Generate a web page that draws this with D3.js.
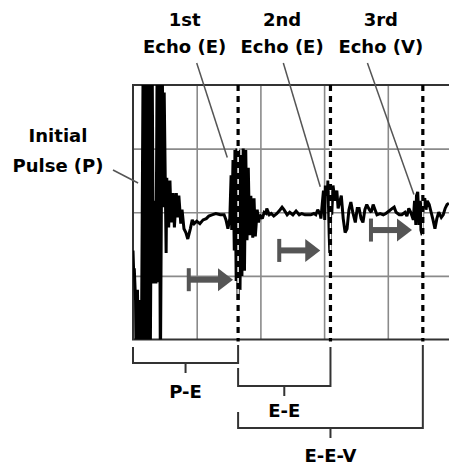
<!DOCTYPE html>
<html><head><meta charset="utf-8">
<script src="https://cdn.jsdelivr.net/npm/d3@7"></script>
<style>
html,body{margin:0;padding:0;background:#fff;}
svg{display:block;}
text{font-family:"DejaVu Sans",Verdana,sans-serif;font-weight:bold;fill:#000;}
</style></head>
<body>
<svg id="chart" width="449" height="468"></svg>
<script>
const traceTime = [0.0,0.1,0.2,0.4,0.5,0.7,0.9,1.1,1.3,1.6,1.8,2.0,2.3,2.5,2.7,3.0,3.2,3.5,3.6,3.8,3.9,4.1,4.3,4.6,4.7,4.9,5.2,5.3,5.6,5.8,6.0,6.3,6.5,6.8,7.0,7.2,7.5,7.7,8.0,8.3,8.6,9.0,9.3,9.6,10.0,10.5,11.0,11.5,11.9,12.4,13.0,13.7,14.3,14.6,14.9,15.2,15.4,15.5,15.7,15.9,16.0,16.2,16.3,16.5,16.6,16.8,17.0,17.1,17.3,17.5,17.7,17.9,18.1,18.3,18.5,18.8,19.0,19.2,19.5,19.7,19.9,20.3,20.6,20.9,21.0,21.4,21.7,22.1,22.6,23.1,23.4,23.7,24.2,24.6,25.1,25.6,26.1,26.5,27.0,27.5,27.9,28.4,28.7,29.0,29.4,29.5,29.7,29.9,30.1,30.2,30.5,30.6,30.8,30.9,31.1,31.2,31.4,31.7,32.0,32.2,32.5,32.7,33.0,33.3,33.6,33.9,34.2,34.5,34.9,35.2,35.5,35.8,36.1,36.4,36.7,37.1,37.4,37.7,38.0,38.3,38.8,39.3,39.7,40.2,40.7,41.0,41.3,41.8,42.2,42.7,43.0,43.3,43.6,44.0,44.2,44.4,44.5,44.7,44.9,45.1,45.2,45.4,45.5,45.8,46.0,46.2,46.5,46.8,47.1,47.4,47.7,48.0,48.4,48.7,49.0,49.3,49.6];
const traceAmp = [-30,-46,-44,-69,-130,-61,-130,-69,-130,130,-130,130,-130,130,-130,130,-56,9,-56,130,-55,130,-130,130,4,94,-32,27,-12,25,-8,15,-12,15,-4,13,-9,2,-13,-16,-21,-13,-6,-9,-7,-9,-6,-5,-3,-2,-1,-2,-2,-6,-13,-5,29,-14,41,-30,49,-54,50,-69,49,-61,45,-50,50,-46,49,-22,35,-18,13,-20,11,-19,2,-8,-2,-5,0,-1,3,-2,-1,-3,-1,2,4,2,-2,0,-2,1,-2,-1,-2,-2,-2,-1,-2,2,-2,-5,6,17,-6,21,13,25,-18,-32,17,-2,21,9,17,3,9,13,-5,-16,-13,2,8,0,-8,3,3,-5,-8,2,6,2,0,6,2,-2,-1,-2,-1,1,3,4,0,-2,-2,0,-3,3,0,-6,9,-10,13,16,-10,9,-14,-18,6,11,2,9,6,0,-6,-13,-5,0,-4,-2,3,6,7];

// Echo markers (dashed lines) and their labels
const echoLine1 = ["1st", "2nd", "3rd"];
const echoLine2 = ["Echo (E)", "Echo (E)", "Echo (V)"];
const echoTimes = [16.5, 31.0, 45.5];
const echoLabelTime = [8.1, 23.4, 38.9];
const pointerStartTime = [10.0, 23.6, 36.8];
const pointerEndTime = [14.8, 29.4, 44.1];
const pointerEndAmp = [43, 20, 14];

// Transit arrows (start time, end time, amplitude level)
const arrowStart = [8.6, 22.8, 37.2];
const arrowEnd = [15.7, 29.4, 43.8];
const arrowAmp = [-53, -30, -14];

// Measurement brackets
const bracketNames = ["P-E", "E-E", "E-E-V"];
const bracketFrom = [0, 16.5, 16.5];
const bracketTo = [16.5, 31.0, 45.5];

const gridTimes = [10, 20, 30, 40];
const gridAmps = [50, 0, -50];

const svg = d3.select("#chart");
const L = 133, R = 449, T = 85, B = 339.5;
const x = d3.scaleLinear().domain([0, 50]).range([L, 451.5]);
const y = d3.scaleLinear().domain([-100, 100]).range([B, T]);

svg.append("defs").append("clipPath").attr("id", "clip")
  .append("rect").attr("x", L).attr("y", T).attr("width", R - L).attr("height", B - T);

// grid
const grid = svg.append("g");
grid.append("g").attr("transform", `translate(0,${B})`)
  .call(d3.axisBottom(x).tickValues(gridTimes).tickSize(-(B - T)).tickFormat(""))
  .call(g => g.select(".domain").remove())
  .call(g => g.selectAll("text").remove())
  .call(g => g.selectAll("line").attr("stroke", "#8a8a8a").attr("stroke-width", 1.6));
grid.append("g").attr("transform", `translate(${L},0)`)
  .call(d3.axisLeft(y).tickValues(gridAmps).tickSize(-(R - L)).tickFormat(""))
  .call(g => g.select(".domain").remove())
  .call(g => g.selectAll("text").remove())
  .call(g => g.selectAll("line").attr("stroke", "#8a8a8a").attr("stroke-width", 1.6));

// frame (top, left, bottom)
svg.append("path")
  .attr("d", `M${R},${y(100)}H${x(0)}V${y(-100)}H${R}`)
  .attr("fill", "none").attr("stroke", "#333").attr("stroke-width", 2);

// trace
const pts = traceTime.map((t, i) => [t, traceAmp[i]]);
svg.append("path").datum(pts)
  .attr("clip-path", "url(#clip)")
  .attr("d", d3.line().x(d => x(d[0])).y(d => y(d[1])))
  .attr("fill", "none").attr("stroke", "#000").attr("stroke-width", 3)
  .attr("stroke-linejoin", "miter").attr("stroke-miterlimit", 2);

// echo dashed markers (white gaps over the trace)
svg.selectAll(".echoBg").data(echoTimes).join("line")
  .attr("x1", d => x(d)).attr("x2", d => x(d))
  .attr("y1", y(100) + 3).attr("y2", y(-100) - 3)
  .attr("stroke", "#fff").attr("stroke-width", 1.5);
svg.selectAll(".echo").data(echoTimes).join("line")
  .attr("x1", d => x(d)).attr("x2", d => x(d))
  .attr("y1", y(100)).attr("y2", y(-100) + 2)
  .attr("stroke", "#000").attr("stroke-width", 3.2)
  .attr("stroke-dasharray", "6,5");

// arrows
const arrowG = svg.selectAll(".arrow").data(arrowStart.map((s, i) => ({s, e: arrowEnd[i], a: arrowAmp[i]})))
  .join("g").attr("fill", "#555");
arrowG.append("rect").attr("x", d => x(d.s) - 1).attr("y", d => y(d.a) - 11.5).attr("width", 4).attr("height", 23);
arrowG.append("rect").attr("x", d => x(d.s)).attr("y", d => y(d.a) - 3).attr("width", d => x(d.e) - x(d.s) - 13).attr("height", 6);
arrowG.append("path").attr("d", d => {
  const xe = x(d.e), ya = y(d.a);
  return `M${xe},${ya}L${xe - 15},${ya - 11.5}L${xe - 15},${ya + 11.5}Z`;
});

// pointers
const ptrG = svg.append("g").attr("stroke", "#555").attr("stroke-width", 1.5);
ptrG.selectAll("line").data(pointerStartTime).join("line")
  .attr("x1", d => x(d)).attr("y1", 63)
  .attr("x2", (d, i) => x(pointerEndTime[i])).attr("y2", (d, i) => y(pointerEndAmp[i]));
// initial pulse pointer
ptrG.append("line").attr("x1", 113).attr("y1", 170).attr("x2", x(0.8)).attr("y2", y(23));

// echo labels
echoLine1.forEach((l1, i) => {
  const t = svg.append("text").attr("text-anchor", "middle").attr("font-size", 18);
  t.append("tspan").attr("x", x(echoLabelTime[i])).attr("y", 26).text(l1);
  t.append("tspan").attr("x", x(echoLabelTime[i])).attr("y", 53).text(echoLine2[i]);
});

// initial pulse label
const ip = svg.append("text").attr("text-anchor", "middle").attr("font-size", 18);
ip.append("tspan").attr("x", 58).attr("y", 142).text("Initial");
ip.append("tspan").attr("x", 58).attr("y", 172).text("Pulse (P)");

// brackets
const brTop = [347, 368, 412];
const brY = [363, 386, 428];
const brRightTop = [345, 347, 345];
const brLabelY = [398, 417, 462];
const brG = svg.append("g");
bracketNames.forEach((nm, i) => {
  const x0 = x(bracketFrom[i]), x1 = x(bracketTo[i]), xm = (x0 + x1) / 2;
  brG.append("path")
    .attr("d", `M${x0},${brTop[i]}V${brY[i]}H${x1}V${brRightTop[i]}M${xm},${brY[i]}V${brY[i] + 10}`)
    .attr("fill", "none").attr("stroke", "#333").attr("stroke-width", 2);
  brG.append("text").attr("x", xm).attr("y", brLabelY[i]).attr("text-anchor", "middle")
    .attr("font-size", 18).text(nm);
});
</script>
</body></html>
